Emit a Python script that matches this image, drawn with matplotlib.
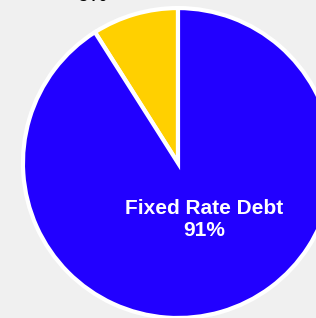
"""Pie chart: fixed vs floating rate debt split."""

import matplotlib
matplotlib.use("Agg")
import matplotlib.pyplot as plt

categories = ["Floating Rate Debt", "Fixed Rate Debt"]
shares = [9, 91]
colors = ["#ffd000", "#2200ff"]

plt.rcParams["font.family"] = ["Liberation Sans", "DejaVu Sans"]

fig = plt.figure(figsize=(3.16, 3.18), dpi=100, facecolor="#f0f0f0")
ax = fig.add_axes([0, 0, 1, 1])
ax.set_facecolor("#f0f0f0")

wedges, _ = ax.pie(
    shares,
    colors=colors,
    startangle=90,
    counterclock=True,
    radius=1.0,
    wedgeprops={"edgecolor": "white", "linewidth": 3},
)

# labels: big slice inside in white, small slice outside above the pie
ax.text(0.168, -0.365, f"{categories[1]}\n{shares[1]}%", color="white",
        fontsize=15, fontweight="bold", ha="center", va="center",
        linespacing=1.15)
ax.text(-0.552, 1.046, f"{shares[0]}%", color="black",
        fontsize=15, fontweight="bold", ha="center", va="baseline",
        clip_on=False)

ax.set_xlim(-1.148, 0.890)
ax.set_ylim(-1.0, 1.052)
ax.set_aspect("auto")
ax.axis("off")

fig.savefig("out.png", dpi=100, facecolor=fig.get_facecolor())
